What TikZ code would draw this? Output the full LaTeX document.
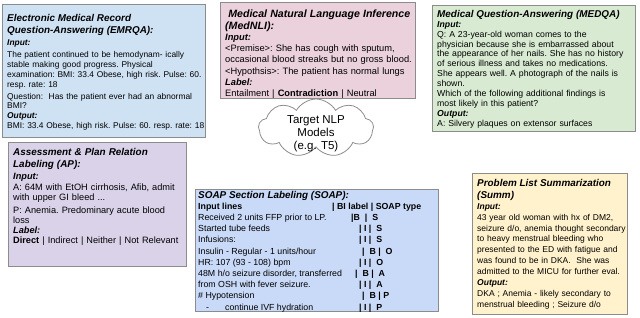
\documentclass[tikz,border=0pt]{standalone}
\usepackage{fontspec}
\setmainfont{Liberation Sans}
\usetikzlibrary{shapes.symbols}

\definecolor{panelgray}{HTML}{8C8C8C}
\definecolor{emrqablue}{HTML}{CFE2F3}
\definecolor{nlipink}{HTML}{EAD1DC}
\definecolor{qagreen}{HTML}{D9EAD3}
\definecolor{aplilac}{HTML}{D9D2E9}
\definecolor{soapblue}{HTML}{C9DAF8}
\definecolor{summyellow}{HTML}{FFF2CC}

\newcommand{\titlefont}[1][9.9]{\fontsize{#1}{12}\selectfont\bfseries\itshape}
\newcommand{\fieldfont}{\bfseries\itshape}
\newcommand{\panelfont}[2]{\fontsize{#1}{#2}\selectfont\frenchspacing}
\newcommand{\soapfont}{\fontsize{8.8}{11}\selectfont\frenchspacing}
\newcommand{\cloudfont}{\fontsize{11.5}{13}\selectfont}

\begin{document}
\begin{tikzpicture}[x=1pt,y=-1pt,
    panel/.style={draw=panelgray, line width=0.8pt, anchor=north west, inner sep=0pt},
    paneltext/.style={anchor=north west, align=left, text width=300pt, inner xsep=5pt, inner ysep=6pt},
    soapcell/.style={anchor=base west, inner sep=0pt, font=\soapfont},
]
\useasboundingbox (0,0) rectangle (640,317);

% the six task boxes
\node[panel, fill=emrqablue, minimum width=203, minimum height=133] (emrqa) at (2,4) {};
\node[panel, fill=nlipink, minimum width=195, minimum height=96] (mednli) at (220,2) {};
\node[panel, fill=qagreen, minimum width=203, minimum height=126] (medqa) at (432,5) {};
\node[panel, fill=aplilac, minimum width=178, minimum height=124] (ap) at (8,142) {};
\node[panel, fill=soapblue, minimum width=243, minimum height=122] (soap) at (195,189) {};
\node[panel, fill=summyellow, minimum width=155, minimum height=141] (summ) at (472,173) {};

% texts of the boxes
\node[paneltext, inner ysep=10pt, font={\panelfont{8.4}{9.8}}] (emrqatext) at (emrqa.north west) {%
  {\titlefont Electronic Medical Record\\Question-Answering (EMRQA):\par}\vspace{2.5pt}
  {\fieldfont Input:\par}\vspace{2.5pt}
  The patient continued to be hemodynam- ically\\
  stable making good progress. Physical\\
  examination: BMI: 33.4 Obese, high risk. Pulse: 60.\\
  resp. rate: 18\par\vspace{2pt}
  Question:\ \ Has the patient ever had an abnormal\\
  BMI?\par
  {\fieldfont Output:\par}
  BMI: 33.4 Obese, high risk. Pulse: 60. resp. rate: 18\par};
\node[paneltext, inner ysep=7.5pt, font={\panelfont{9.3}{11.2}}] (mednlitext) at (mednli.north west) {%
  {\titlefont[10.6] Medical Natural Language Inference\\(MedNLI):\par}
  {\fieldfont Input:\par}
  <Premise>: She has cough with sputum,\\
  occasional blood streaks but no gross blood.\\
  <Hypothsis>: The patient has normal lungs\par
  {\fieldfont Label:\par}
  Entailment | \textbf{Contradiction} | Neutral\par};
\node[paneltext, inner ysep=5pt, font={\panelfont{8.7}{9.9}}] (medqatext) at (medqa.north west) {%
  {\titlefont Medical Question-Answering (MEDQA)\par}
  {\fieldfont Input:\par}
  Q: A 23-year-old woman comes to the\\
  physician because she is embarrassed about\\
  the appearance of her nails. She has no history\\
  of serious illness and takes no medications.\\
  She appears well. A photograph of the nails is\\
  shown.\\
  Which of the following additional findings is\\
  most likely in this patient?\par
  {\fieldfont Output:\par}
  A: Silvery plaques on extensor surfaces\par};
\node[paneltext, font={\panelfont{9.2}{10.2}}] (aptext) at (ap.north west) {%
  {\titlefont Assessment \& Plan Relation\\Labeling (AP):\par}\vspace{1.5pt}
  {\fieldfont Input:\par}\vspace{1.5pt}
  A: 64M with EtOH cirrhosis, Afib, admit\\
  with upper GI bleed ...\par\vspace{2pt}
  P: Anemia. Predominary acute blood\\
  loss\par
  {\fieldfont Label:\par}
  \textbf{Direct} | Indirect | Neither | Not Relevant\par};
\node[paneltext, inner ysep=6pt, font={\panelfont{8.5}{10.9}}] (summtext) at (summ.north west) {%
  {\titlefont Problem List Summarization\\(Summ)\par}
  {\fieldfont Input:\par}
  43 year old woman with hx of DM2,\\
  seizure d/o, anemia thought secondary\\
  to heavy menstrual bleeding who\\
  presented to the ED with fatigue and\\
  was found to be in DKA.\ \ She was\\
  admitted to the MICU for further eval.\par
  {\fieldfont Output:\par}
  DKA ; Anemia - likely secondary to\\
  menstrual bleeding ; Seizure d/o\par};

% SOAP table
\node[soapcell, font=\titlefont] (soaptitle) at (198,198.5) {SOAP Section Labeling (SOAP):};
\node[soapcell, font=\soapfont\bfseries] (soaphead) at (198,209.5) {Input lines};
\node[soapcell, font=\soapfont\bfseries] (soapheadlab) at (332,209.5) {| BI label | SOAP type};
\foreach \row/\lab/\lx [count=\i from 0] in {%
    Received 2 units FFP prior to LP./{|B\ \ | \ S}/351,
    Started tube feeds/{| I | \ S}/359,
    Infusions:/{| I | \ S}/359,
    {Insulin - Regular - 1 units/hour}/{| \ B | \ O}/362,
    HR: 107 (93 - 108) bpm/{| I | \ O}/359,
    {48M h/o seizure disorder, transferred}/{| \ B | \ A}/355,
    from OSH with fever seizure./{| I | \ A}/359,
    \# Hypotension/{| \ B | P}/362,
    {\hspace{8pt}-\hspace{16pt}continue IVF hydration}/{| I | \ P}/359} {
  \node[soapcell] (soaprow\i) at (198,220.5+11.2*\i) {\row};
  \node[soapcell, font=\soapfont\bfseries] (soaplab\i) at (\lx,220.5+11.2*\i) {\lab};
}

% the models in the middle
\node[cloud, cloud puffs=9, cloud puff arc=120, aspect=2, draw=panelgray, fill=white,
      line width=0.8pt, minimum width=115, minimum height=58, inner sep=0pt] (cloud) at (316,128) {};
\node[align=center, font=\cloudfont, inner sep=0pt] (models) at (316,134) {Target NLP\\Models\\(e.g. T5)};
\end{tikzpicture}
\end{document}
